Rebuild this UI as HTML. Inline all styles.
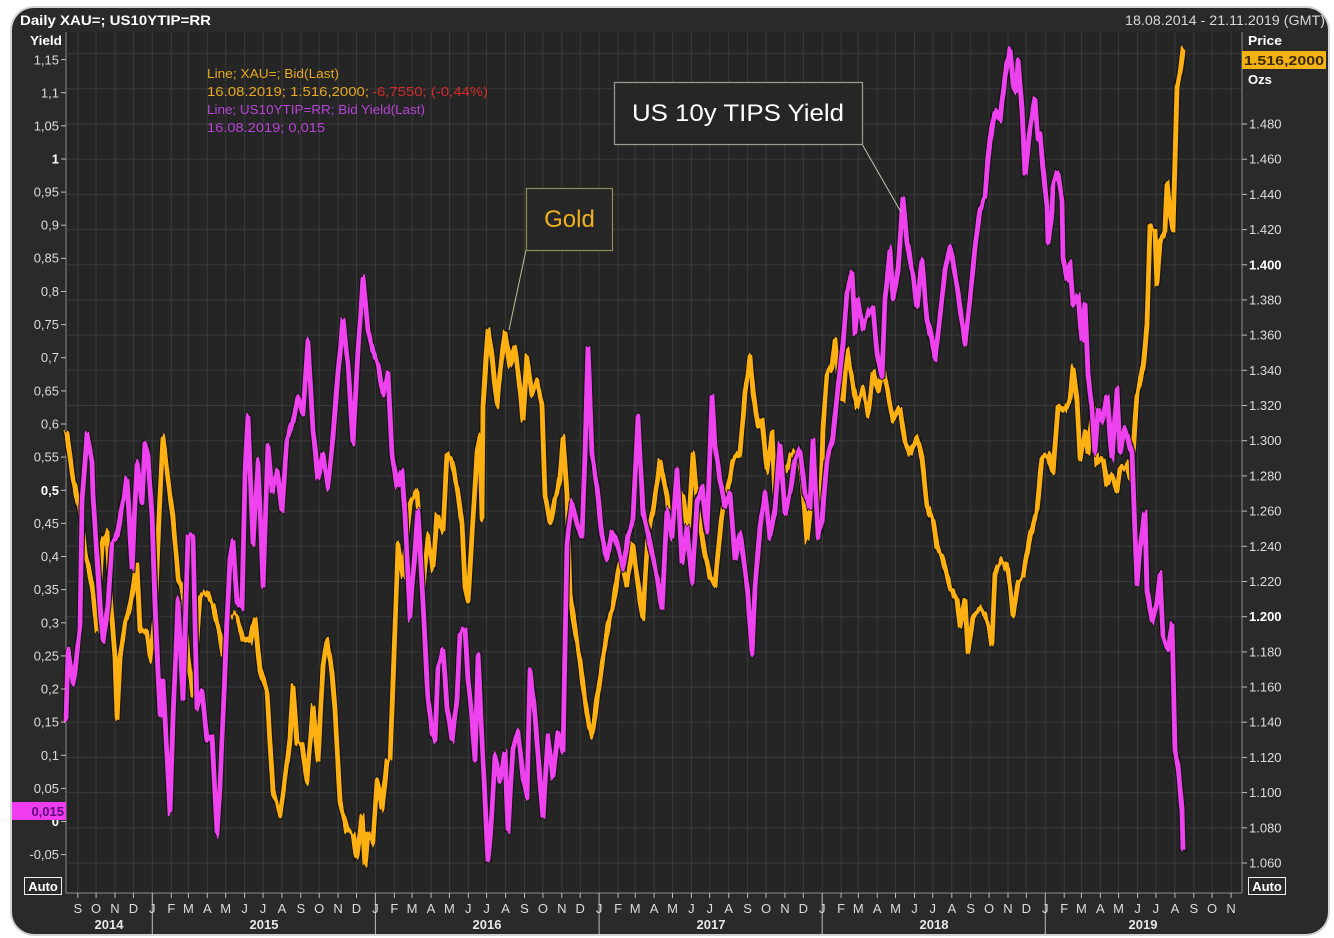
<!DOCTYPE html>
<html><head><meta charset="utf-8"><style>
html,body{margin:0;padding:0;background:#fff;}
svg{display:block;}
text{font-family:"Liberation Sans","DejaVu Sans",sans-serif;}
</style></head><body>
<svg width="1334" height="938" viewBox="0 0 1334 938" xmlns="http://www.w3.org/2000/svg">
<defs>
<filter id="jit" x="0" y="0" width="1334" height="938" filterUnits="userSpaceOnUse" color-interpolation-filters="sRGB">
<feTurbulence type="fractalNoise" baseFrequency="0.3 0.004" numOctaves="2" seed="3" result="t"/>
<feColorMatrix in="t" type="matrix" values="0 0 0 0 0.5  0 1 0 0 0  0 0 0 0 0  0 0 0 0 1" result="m"/>
<feDisplacementMap in="SourceGraphic" in2="m" scale="12" xChannelSelector="R" yChannelSelector="G"/>
</filter>
<filter id="jit2" x="0" y="0" width="1334" height="938" filterUnits="userSpaceOnUse" color-interpolation-filters="sRGB">
<feTurbulence type="fractalNoise" baseFrequency="0.3 0.004" numOctaves="2" seed="11" result="t"/>
<feColorMatrix in="t" type="matrix" values="0 0 0 0 0.5  0 1 0 0 0  0 0 0 0 0  0 0 0 0 1" result="m"/>
<feDisplacementMap in="SourceGraphic" in2="m" scale="12" xChannelSelector="R" yChannelSelector="G"/>
</filter>
</defs>
<rect x="0" y="0" width="1334" height="938" fill="#ffffff"/>
<rect x="10" y="6" width="1320" height="930" rx="24" ry="24" fill="#d4d4d4"/>
<rect x="12" y="8" width="1316" height="926" rx="22" ry="22" fill="#2a2a2a"/>
<rect x="66" y="32" width="1176" height="861" fill="#252525"/>
<g stroke="#3a3a3a" stroke-width="1">
<line x1="66" x2="1242" y1="53.6" y2="53.6"/><line x1="66" x2="1242" y1="88.8" y2="88.8"/>
<line x1="66" x2="1242" y1="124" y2="124"/><line x1="66" x2="1242" y1="159.2" y2="159.2"/>
<line x1="66" x2="1242" y1="194.4" y2="194.4"/><line x1="66" x2="1242" y1="229.6" y2="229.6"/>
<line x1="66" x2="1242" y1="264.8" y2="264.8"/><line x1="66" x2="1242" y1="299.9" y2="299.9"/>
<line x1="66" x2="1242" y1="335.1" y2="335.1"/><line x1="66" x2="1242" y1="370.3" y2="370.3"/>
<line x1="66" x2="1242" y1="405.5" y2="405.5"/><line x1="66" x2="1242" y1="440.7" y2="440.7"/>
<line x1="66" x2="1242" y1="475.9" y2="475.9"/><line x1="66" x2="1242" y1="511.1" y2="511.1"/>
<line x1="66" x2="1242" y1="546.3" y2="546.3"/><line x1="66" x2="1242" y1="581.5" y2="581.5"/>
<line x1="66" x2="1242" y1="616.7" y2="616.7"/><line x1="66" x2="1242" y1="651.9" y2="651.9"/>
<line x1="66" x2="1242" y1="687" y2="687"/><line x1="66" x2="1242" y1="722.2" y2="722.2"/>
<line x1="66" x2="1242" y1="757.4" y2="757.4"/><line x1="66" x2="1242" y1="792.6" y2="792.6"/>
<line x1="66" x2="1242" y1="827.8" y2="827.8"/><line x1="66" x2="1242" y1="863" y2="863"/>
</g>
<g stroke="#3a3a3a" stroke-width="1">
<line y1="32" y2="893" x1="77.8" x2="77.8"/><line y1="32" y2="893" x1="96.1" x2="96.1"/><line y1="32" y2="893" x1="115" x2="115"/><line y1="32" y2="893" x1="133.4" x2="133.4"/><line y1="32" y2="893" x1="152.3" x2="152.3"/>
<line y1="32" y2="893" x1="171.3" x2="171.3"/><line y1="32" y2="893" x1="188.4" x2="188.4"/><line y1="32" y2="893" x1="207.3" x2="207.3"/><line y1="32" y2="893" x1="225.7" x2="225.7"/><line y1="32" y2="893" x1="244.6" x2="244.6"/><line y1="32" y2="893" x1="263" x2="263"/><line y1="32" y2="893" x1="281.9" x2="281.9"/><line y1="32" y2="893" x1="300.8" x2="300.8"/><line y1="32" y2="893" x1="319.2" x2="319.2"/><line y1="32" y2="893" x1="338.1" x2="338.1"/><line y1="32" y2="893" x1="356.5" x2="356.5"/><line y1="32" y2="893" x1="375.4" x2="375.4"/>
<line y1="32" y2="893" x1="394.4" x2="394.4"/><line y1="32" y2="893" x1="412.1" x2="412.1"/><line y1="32" y2="893" x1="431" x2="431"/><line y1="32" y2="893" x1="449.4" x2="449.4"/><line y1="32" y2="893" x1="468.3" x2="468.3"/><line y1="32" y2="893" x1="486.6" x2="486.6"/><line y1="32" y2="893" x1="505.6" x2="505.6"/><line y1="32" y2="893" x1="524.5" x2="524.5"/><line y1="32" y2="893" x1="542.9" x2="542.9"/><line y1="32" y2="893" x1="561.8" x2="561.8"/><line y1="32" y2="893" x1="580.2" x2="580.2"/><line y1="32" y2="893" x1="599.1" x2="599.1"/>
<line y1="32" y2="893" x1="618.1" x2="618.1"/><line y1="32" y2="893" x1="635.2" x2="635.2"/><line y1="32" y2="893" x1="654.1" x2="654.1"/><line y1="32" y2="893" x1="672.5" x2="672.5"/><line y1="32" y2="893" x1="691.4" x2="691.4"/><line y1="32" y2="893" x1="709.7" x2="709.7"/><line y1="32" y2="893" x1="728.7" x2="728.7"/><line y1="32" y2="893" x1="747.6" x2="747.6"/><line y1="32" y2="893" x1="766" x2="766"/><line y1="32" y2="893" x1="784.9" x2="784.9"/><line y1="32" y2="893" x1="803.3" x2="803.3"/><line y1="32" y2="893" x1="822.2" x2="822.2"/>
<line y1="32" y2="893" x1="841.1" x2="841.1"/><line y1="32" y2="893" x1="858.3" x2="858.3"/><line y1="32" y2="893" x1="877.2" x2="877.2"/><line y1="32" y2="893" x1="895.5" x2="895.5"/><line y1="32" y2="893" x1="914.5" x2="914.5"/><line y1="32" y2="893" x1="932.8" x2="932.8"/><line y1="32" y2="893" x1="951.8" x2="951.8"/><line y1="32" y2="893" x1="970.7" x2="970.7"/><line y1="32" y2="893" x1="989.1" x2="989.1"/><line y1="32" y2="893" x1="1008" x2="1008"/><line y1="32" y2="893" x1="1026.3" x2="1026.3"/><line y1="32" y2="893" x1="1045.3" x2="1045.3"/>
<line y1="32" y2="893" x1="1064.2" x2="1064.2"/><line y1="32" y2="893" x1="1081.4" x2="1081.4"/><line y1="32" y2="893" x1="1100.3" x2="1100.3"/><line y1="32" y2="893" x1="1118.6" x2="1118.6"/><line y1="32" y2="893" x1="1137.6" x2="1137.6"/><line y1="32" y2="893" x1="1155.9" x2="1155.9"/><line y1="32" y2="893" x1="1174.9" x2="1174.9"/><line y1="32" y2="893" x1="1193.8" x2="1193.8"/><line y1="32" y2="893" x1="1212.1" x2="1212.1"/><line y1="32" y2="893" x1="1231.1" x2="1231.1"/>
</g>
<g stroke="#8a8a8a" stroke-width="1">
<line x1="66" y1="32" x2="66" y2="893"/>
<line x1="1242" y1="32" x2="1242" y2="893"/>
<line x1="66" y1="893" x2="1242" y2="893"/>
</g>

<!-- legend -->
<text x="207" y="78" font-size="13" fill="#e8a820" textLength="132" lengthAdjust="spacingAndGlyphs">Line; XAU=; Bid(Last)</text>
<text x="207" y="96" font-size="13" fill="#e8a820" textLength="162" lengthAdjust="spacingAndGlyphs">16.08.2019; 1.516,2000;</text>
<text x="372" y="96" font-size="13" fill="#d42a2a" textLength="116" lengthAdjust="spacingAndGlyphs">-6,7550; (-0,44%)</text>
<text x="207" y="114" font-size="13" fill="#b844d8" textLength="218" lengthAdjust="spacingAndGlyphs">Line; US10YTIP=RR; Bid Yield(Last)</text>
<text x="207" y="132" font-size="13" fill="#b844d8" textLength="118" lengthAdjust="spacingAndGlyphs">16.08.2019; 0,015</text>

<!-- series: gold -->
<g fill="none" stroke-linejoin="round" stroke-linecap="round" filter="url(#jit)">
<polyline stroke="#141414" stroke-width="7" points="66,432 67,434 73,479 80,511 85,552 92,585 97,630 102,544 107,532 110,593 115,658 117,719 120,658 125,625 130,609 137,564 140,630 147,634 150,658 155,613 160,495 163,438 168,479 173,519 178,577 183,593 188,658 193,695 200,597 207,593 213,605 220,634 223,654 228,617 237,617 243,638 250,642 255,617 260,670 267,691 273,793 280,813 283,793 290,740 293,687 297,744 302,744 307,781 313,707 318,760 323,666 327,642 332,674 335,711 340,801 347,830 353,834 357,858 362,817 365,866 368,834 373,842 377,781 382,809 387,760 390,760 395,630 398,545 403,577 410,503 417,491 423,589 428,536 433,568 437,515 443,532 447,454 452,462 457,487 462,523 465,585 468,601 472,536 477,454 480,434 482,519 483,405 488,328 492,356 497,405 500,372 505,332 510,368 515,348 520,389 523,421 527,356 532,393 537,381 542,405 545,495 550,523 555,499 560,479 563,438 567,495 570,593 573,617 580,662 587,715 592,736 597,699 603,658 608,626 613,605 620,560 627,585 633,544 640,597 643,617 648,532 653,511 660,462 667,495 670,532 677,511 683,495 688,536 693,454 698,511 703,544 710,577 715,585 720,532 724,500 727,493 733,460 740,453 745,393 750,357 753,393 758,427 762,420 767,470 772,433 775,497 780,473 787,470 792,453 798,450 802,480 807,540 812,493 817,500 820,533 823,427 827,373 832,367 835,340 840,393 843,400 847,350 852,380 857,407 863,390 868,413 873,373 878,393 883,367 888,393 893,420 900,407 905,440 910,453 917,437 922,457 927,507 933,520 937,547 943,560 950,587 957,600 960,627 965,600 968,653 973,617 980,610 987,620 992,643 995,573 1002,560 1008,570 1013,613 1018,580 1023,577 1030,537 1037,510 1042,457 1048,453 1053,473 1058,407 1060,406 1065,411 1070,401 1073,369 1077,401 1080,459 1085,432 1088,453 1093,406 1097,464 1103,459 1107,485 1112,475 1117,491 1120,469 1127,464 1130,480 1133,453 1137,395 1143,369 1147,326 1150,226 1155,231 1157,284 1160,242 1165,231 1167,184 1170,215 1173,231 1175,162 1177,88 1180,72 1183,49"/>
<polyline stroke="#fdb012" stroke-width="4.8" points="66,432 67,434 73,479 80,511 85,552 92,585 97,630 102,544 107,532 110,593 115,658 117,719 120,658 125,625 130,609 137,564 140,630 147,634 150,658 155,613 160,495 163,438 168,479 173,519 178,577 183,593 188,658 193,695 200,597 207,593 213,605 220,634 223,654 228,617 237,617 243,638 250,642 255,617 260,670 267,691 273,793 280,813 283,793 290,740 293,687 297,744 302,744 307,781 313,707 318,760 323,666 327,642 332,674 335,711 340,801 347,830 353,834 357,858 362,817 365,866 368,834 373,842 377,781 382,809 387,760 390,760 395,630 398,545 403,577 410,503 417,491 423,589 428,536 433,568 437,515 443,532 447,454 452,462 457,487 462,523 465,585 468,601 472,536 477,454 480,434 482,519 483,405 488,328 492,356 497,405 500,372 505,332 510,368 515,348 520,389 523,421 527,356 532,393 537,381 542,405 545,495 550,523 555,499 560,479 563,438 567,495 570,593 573,617 580,662 587,715 592,736 597,699 603,658 608,626 613,605 620,560 627,585 633,544 640,597 643,617 648,532 653,511 660,462 667,495 670,532 677,511 683,495 688,536 693,454 698,511 703,544 710,577 715,585 720,532 724,500 727,493 733,460 740,453 745,393 750,357 753,393 758,427 762,420 767,470 772,433 775,497 780,473 787,470 792,453 798,450 802,480 807,540 812,493 817,500 820,533 823,427 827,373 832,367 835,340 840,393 843,400 847,350 852,380 857,407 863,390 868,413 873,373 878,393 883,367 888,393 893,420 900,407 905,440 910,453 917,437 922,457 927,507 933,520 937,547 943,560 950,587 957,600 960,627 965,600 968,653 973,617 980,610 987,620 992,643 995,573 1002,560 1008,570 1013,613 1018,580 1023,577 1030,537 1037,510 1042,457 1048,453 1053,473 1058,407 1060,406 1065,411 1070,401 1073,369 1077,401 1080,459 1085,432 1088,453 1093,406 1097,464 1103,459 1107,485 1112,475 1117,491 1120,469 1127,464 1130,480 1133,453 1137,395 1143,369 1147,326 1150,226 1155,231 1157,284 1160,242 1165,231 1167,184 1170,215 1173,231 1175,162 1177,88 1180,72 1183,49"/>
</g>
<!-- magenta -->
<g fill="none" stroke-linejoin="round" stroke-linecap="round" filter="url(#jit2)">
<polyline stroke="#141414" stroke-width="7" points="66,719 68,650 73,683 77,654 80,626 82,503 87,434 92,462 93,495 97,556 100,605 103,642 108,605 112,544 117,536 122,507 127,479 132,568 137,462 142,503 145,442 148,458 152,515 155,605 160,715 163,679 170,813 173,719 178,601 183,699 188,536 193,536 197,707 202,691 207,740 212,736 217,834 220,785 223,719 227,621 230,560 233,540 237,601 242,609 245,474 248,417 253,544 258,462 263,585 268,446 272,491 277,470 282,511 287,438 293,421 298,397 303,413 308,340 313,430 318,479 323,454 328,487 333,438 338,372 343,319 348,364 353,442 358,348 363,279 368,332 373,352 378,364 383,393 388,372 392,454 397,487 402,470 405,515 410,617 413,577 418,511 422,585 425,642 428,699 432,732 435,740 438,666 443,650 447,707 452,740 457,699 460,634 465,630 468,679 472,719 475,760 478,654 483,760 488,862 492,813 495,756 500,781 505,752 508,830 513,748 518,732 523,777 527,797 530,670 535,715 540,781 543,817 548,736 553,777 558,732 563,752 567,544 572,503 577,523 582,536 585,454 588,348 592,454 597,487 602,536 607,560 612,532 617,544 623,568 628,536 633,519 638,417 643,511 650,544 657,577 662,609 667,511 672,536 677,470 682,564 687,528 692,581 697,503 702,487 707,532 712,397 715,446 720,479 725,507 730,493 735,560 740,533 745,570 748,597 752,653 755,587 760,527 765,493 770,537 775,510 780,443 785,513 790,493 795,460 800,450 805,493 810,507 813,440 818,537 822,520 827,460 833,437 838,387 843,343 847,293 852,273 855,333 858,300 863,327 868,313 873,307 877,353 882,377 885,300 890,250 893,300 898,270 903,197 907,243 912,270 917,307 922,260 927,320 932,340 935,360 940,317 945,270 950,247 955,273 960,307 965,343 970,300 975,247 980,210 985,197 988,160 990,140 995,110 1000,120 1005,75 1010,47 1013,80 1016,90 1018,60 1022,110 1025,175 1028,150 1030,130 1035,100 1038,140 1040,131 1043,168 1047,205 1048,242 1052,215 1053,184 1058,173 1062,199 1063,258 1067,279 1070,263 1073,305 1078,295 1082,342 1085,305 1088,374 1092,411 1095,453 1098,411 1102,422 1107,395 1112,459 1117,390 1120,453 1125,427 1132,453 1137,586 1140,549 1145,512 1147,591 1152,623 1157,602 1160,575 1163,639 1168,649 1172,623 1175,750 1178,766 1182,808 1183,848"/>
<polyline stroke="#ef42ef" stroke-width="4.8" points="66,719 68,650 73,683 77,654 80,626 82,503 87,434 92,462 93,495 97,556 100,605 103,642 108,605 112,544 117,536 122,507 127,479 132,568 137,462 142,503 145,442 148,458 152,515 155,605 160,715 163,679 170,813 173,719 178,601 183,699 188,536 193,536 197,707 202,691 207,740 212,736 217,834 220,785 223,719 227,621 230,560 233,540 237,601 242,609 245,474 248,417 253,544 258,462 263,585 268,446 272,491 277,470 282,511 287,438 293,421 298,397 303,413 308,340 313,430 318,479 323,454 328,487 333,438 338,372 343,319 348,364 353,442 358,348 363,279 368,332 373,352 378,364 383,393 388,372 392,454 397,487 402,470 405,515 410,617 413,577 418,511 422,585 425,642 428,699 432,732 435,740 438,666 443,650 447,707 452,740 457,699 460,634 465,630 468,679 472,719 475,760 478,654 483,760 488,862 492,813 495,756 500,781 505,752 508,830 513,748 518,732 523,777 527,797 530,670 535,715 540,781 543,817 548,736 553,777 558,732 563,752 567,544 572,503 577,523 582,536 585,454 588,348 592,454 597,487 602,536 607,560 612,532 617,544 623,568 628,536 633,519 638,417 643,511 650,544 657,577 662,609 667,511 672,536 677,470 682,564 687,528 692,581 697,503 702,487 707,532 712,397 715,446 720,479 725,507 730,493 735,560 740,533 745,570 748,597 752,653 755,587 760,527 765,493 770,537 775,510 780,443 785,513 790,493 795,460 800,450 805,493 810,507 813,440 818,537 822,520 827,460 833,437 838,387 843,343 847,293 852,273 855,333 858,300 863,327 868,313 873,307 877,353 882,377 885,300 890,250 893,300 898,270 903,197 907,243 912,270 917,307 922,260 927,320 932,340 935,360 940,317 945,270 950,247 955,273 960,307 965,343 970,300 975,247 980,210 985,197 988,160 990,140 995,110 1000,120 1005,75 1010,47 1013,80 1016,90 1018,60 1022,110 1025,175 1028,150 1030,130 1035,100 1038,140 1040,131 1043,168 1047,205 1048,242 1052,215 1053,184 1058,173 1062,199 1063,258 1067,279 1070,263 1073,305 1078,295 1082,342 1085,305 1088,374 1092,411 1095,453 1098,411 1102,422 1107,395 1112,459 1117,390 1120,453 1125,427 1132,453 1137,586 1140,549 1145,512 1147,591 1152,623 1157,602 1160,575 1163,639 1168,649 1172,623 1175,750 1178,766 1182,808 1183,848"/>
</g>

<!-- annotations -->
<line x1="526" y1="250" x2="509" y2="330" stroke="#b8c090" stroke-width="1"/>
<rect x="526.5" y="188.5" width="86" height="62" fill="#262626" stroke="#8f8a58" stroke-width="1.2"/>
<text x="569.5" y="227" font-size="24" fill="#f2b020" text-anchor="middle">Gold</text>
<line x1="862" y1="144" x2="901" y2="212" stroke="#c0c8b0" stroke-width="1"/>
<rect x="614.5" y="82.5" width="248" height="62" fill="#262626" stroke="#9aa090" stroke-width="1.2"/>
<text x="738" y="121" font-size="24" fill="#ffffff" text-anchor="middle" textLength="212" lengthAdjust="spacingAndGlyphs">US 10y TIPS Yield</text>

<!-- header -->
<text x="20" y="25" font-size="14" font-weight="bold" fill="#ffffff" textLength="191" lengthAdjust="spacingAndGlyphs">Daily XAU=; US10YTIP=RR</text>
<text x="1125" y="25" font-size="13.5" fill="#d8d8d8" textLength="200" lengthAdjust="spacingAndGlyphs">18.08.2014 - 21.11.2019 (GMT)</text>
<text x="30" y="45" font-size="13" font-weight="bold" fill="#ffffff" textLength="32" lengthAdjust="spacingAndGlyphs">Yield</text>
<text x="1248" y="45" font-size="13" font-weight="bold" fill="#ffffff" textLength="34" lengthAdjust="spacingAndGlyphs">Price</text>
<text x="1248" y="84" font-size="13" font-weight="bold" fill="#ffffff">Ozs</text>

<!-- left axis -->
<g font-size="13" fill="#dcdcdc" text-anchor="end">
<text x="59" y="64.5">1,15</text><text x="59" y="97.5">1,1</text><text x="59" y="130.5">1,05</text>
<text x="59" y="163.5" font-weight="bold" fill="#fff">1</text><text x="59" y="196.5">0,95</text><text x="59" y="229.5">0,9</text>
<text x="59" y="262.5">0,85</text><text x="59" y="296">0,8</text><text x="59" y="329">0,75</text>
<text x="59" y="362">0,7</text><text x="59" y="395.5">0,65</text><text x="59" y="428.5">0,6</text>
<text x="59" y="461.5">0,55</text><text x="59" y="495" font-weight="bold" fill="#fff">0,5</text><text x="59" y="528">0,45</text>
<text x="59" y="561">0,4</text><text x="59" y="594">0,35</text><text x="59" y="627.5">0,3</text>
<text x="59" y="660.5">0,25</text><text x="59" y="693.5">0,2</text><text x="59" y="726.5">0,15</text>
<text x="59" y="760">0,1</text><text x="59" y="793">0,05</text><text x="59" y="826" font-weight="bold" fill="#fff">0</text>
<text x="59" y="859">-0,05</text>
</g>
<g stroke="#bdbdbd" stroke-width="1">
<line x1="61" x2="66" y1="59.6" y2="59.6"/><line x1="61" x2="66" y1="92.7" y2="92.7"/><line x1="61" x2="66" y1="125.8" y2="125.8"/><line x1="61" x2="66" y1="159" y2="159"/><line x1="61" x2="66" y1="192.1" y2="192.1"/><line x1="61" x2="66" y1="225.2" y2="225.2"/><line x1="61" x2="66" y1="258.4" y2="258.4"/><line x1="61" x2="66" y1="291.5" y2="291.5"/><line x1="61" x2="66" y1="324.6" y2="324.6"/><line x1="61" x2="66" y1="357.7" y2="357.7"/><line x1="61" x2="66" y1="390.9" y2="390.9"/><line x1="61" x2="66" y1="424" y2="424"/><line x1="61" x2="66" y1="457.1" y2="457.1"/><line x1="61" x2="66" y1="490.3" y2="490.3"/><line x1="61" x2="66" y1="523.4" y2="523.4"/><line x1="61" x2="66" y1="556.5" y2="556.5"/><line x1="61" x2="66" y1="589.6" y2="589.6"/><line x1="61" x2="66" y1="622.8" y2="622.8"/><line x1="61" x2="66" y1="655.9" y2="655.9"/><line x1="61" x2="66" y1="689" y2="689"/><line x1="61" x2="66" y1="722.1" y2="722.1"/><line x1="61" x2="66" y1="755.3" y2="755.3"/><line x1="61" x2="66" y1="788.4" y2="788.4"/><line x1="61" x2="66" y1="821.5" y2="821.5"/><line x1="61" x2="66" y1="854.6" y2="854.6"/>
</g>
<rect x="12" y="802" width="54" height="18" fill="#ee3cee"/>
<text x="64" y="816" font-size="13" font-weight="bold" fill="#5a0a78" text-anchor="end">0,015</text>
<rect x="24.5" y="877.5" width="37" height="17" fill="none" stroke="#f0f0f0" stroke-width="1"/>
<text x="43" y="891" font-size="13" font-weight="bold" fill="#ffffff" text-anchor="middle">Auto</text>

<!-- right axis -->
<g stroke="#bdbdbd" stroke-width="1">
<line x1="1242" x2="1247" y1="124" y2="124"/><line x1="1242" x2="1247" y1="159.2" y2="159.2"/><line x1="1242" x2="1247" y1="194.4" y2="194.4"/><line x1="1242" x2="1247" y1="229.6" y2="229.6"/><line x1="1242" x2="1247" y1="264.8" y2="264.8"/><line x1="1242" x2="1247" y1="299.9" y2="299.9"/><line x1="1242" x2="1247" y1="335.1" y2="335.1"/><line x1="1242" x2="1247" y1="370.3" y2="370.3"/><line x1="1242" x2="1247" y1="405.5" y2="405.5"/><line x1="1242" x2="1247" y1="440.7" y2="440.7"/><line x1="1242" x2="1247" y1="475.9" y2="475.9"/><line x1="1242" x2="1247" y1="511.1" y2="511.1"/><line x1="1242" x2="1247" y1="546.3" y2="546.3"/><line x1="1242" x2="1247" y1="581.5" y2="581.5"/><line x1="1242" x2="1247" y1="616.7" y2="616.7"/><line x1="1242" x2="1247" y1="651.9" y2="651.9"/><line x1="1242" x2="1247" y1="687" y2="687"/><line x1="1242" x2="1247" y1="722.2" y2="722.2"/><line x1="1242" x2="1247" y1="757.4" y2="757.4"/><line x1="1242" x2="1247" y1="792.6" y2="792.6"/><line x1="1242" x2="1247" y1="827.8" y2="827.8"/><line x1="1242" x2="1247" y1="863" y2="863"/>
</g>
<g font-size="13" fill="#dcdcdc">
<text x="1249" y="128.5">1.480</text><text x="1249" y="163.7">1.460</text><text x="1249" y="198.9">1.440</text><text x="1249" y="234.1">1.420</text>
<text x="1249" y="269.3" font-weight="bold" fill="#fff">1.400</text><text x="1249" y="304.4">1.380</text><text x="1249" y="339.6">1.360</text><text x="1249" y="374.8">1.340</text>
<text x="1249" y="410">1.320</text><text x="1249" y="445.2">1.300</text><text x="1249" y="480.4">1.280</text><text x="1249" y="515.6">1.260</text>
<text x="1249" y="550.8">1.240</text><text x="1249" y="586">1.220</text><text x="1249" y="621.2" font-weight="bold" fill="#fff">1.200</text><text x="1249" y="656.4">1.180</text>
<text x="1249" y="691.5">1.160</text><text x="1249" y="726.7">1.140</text><text x="1249" y="761.9">1.120</text><text x="1249" y="797.1">1.100</text>
<text x="1249" y="832.3">1.080</text><text x="1249" y="867.5">1.060</text>
</g>
<rect x="1242" y="51" width="84" height="18" fill="#f2b214"/>
<text x="1284" y="65" font-size="13" font-weight="bold" fill="#3a2800" text-anchor="middle" textLength="80" lengthAdjust="spacingAndGlyphs">1.516,2000</text>
<rect x="1248.5" y="877.5" width="37" height="17" fill="none" stroke="#f0f0f0" stroke-width="1"/>
<text x="1267" y="891" font-size="13" font-weight="bold" fill="#ffffff" text-anchor="middle">Auto</text>

<!-- x axis -->
<g stroke="#bdbdbd" stroke-width="1">
<line y1="893" y2="898" x1="77.8" x2="77.8"/><line y1="893" y2="898" x1="96.1" x2="96.1"/><line y1="893" y2="898" x1="115" x2="115"/><line y1="893" y2="898" x1="133.4" x2="133.4"/>
<line y1="893" y2="898" x1="171.3" x2="171.3"/><line y1="893" y2="898" x1="188.4" x2="188.4"/><line y1="893" y2="898" x1="207.3" x2="207.3"/><line y1="893" y2="898" x1="225.7" x2="225.7"/><line y1="893" y2="898" x1="244.6" x2="244.6"/><line y1="893" y2="898" x1="263" x2="263"/><line y1="893" y2="898" x1="281.9" x2="281.9"/><line y1="893" y2="898" x1="300.8" x2="300.8"/><line y1="893" y2="898" x1="319.2" x2="319.2"/><line y1="893" y2="898" x1="338.1" x2="338.1"/><line y1="893" y2="898" x1="356.5" x2="356.5"/>
<line y1="893" y2="898" x1="394.4" x2="394.4"/><line y1="893" y2="898" x1="412.1" x2="412.1"/><line y1="893" y2="898" x1="431" x2="431"/><line y1="893" y2="898" x1="449.4" x2="449.4"/><line y1="893" y2="898" x1="468.3" x2="468.3"/><line y1="893" y2="898" x1="486.6" x2="486.6"/><line y1="893" y2="898" x1="505.6" x2="505.6"/><line y1="893" y2="898" x1="524.5" x2="524.5"/><line y1="893" y2="898" x1="542.9" x2="542.9"/><line y1="893" y2="898" x1="561.8" x2="561.8"/><line y1="893" y2="898" x1="580.2" x2="580.2"/>
<line y1="893" y2="898" x1="618.1" x2="618.1"/><line y1="893" y2="898" x1="635.2" x2="635.2"/><line y1="893" y2="898" x1="654.1" x2="654.1"/><line y1="893" y2="898" x1="672.5" x2="672.5"/><line y1="893" y2="898" x1="691.4" x2="691.4"/><line y1="893" y2="898" x1="709.7" x2="709.7"/><line y1="893" y2="898" x1="728.7" x2="728.7"/><line y1="893" y2="898" x1="747.6" x2="747.6"/><line y1="893" y2="898" x1="766" x2="766"/><line y1="893" y2="898" x1="784.9" x2="784.9"/><line y1="893" y2="898" x1="803.3" x2="803.3"/>
<line y1="893" y2="898" x1="841.1" x2="841.1"/><line y1="893" y2="898" x1="858.3" x2="858.3"/><line y1="893" y2="898" x1="877.2" x2="877.2"/><line y1="893" y2="898" x1="895.5" x2="895.5"/><line y1="893" y2="898" x1="914.5" x2="914.5"/><line y1="893" y2="898" x1="932.8" x2="932.8"/><line y1="893" y2="898" x1="951.8" x2="951.8"/><line y1="893" y2="898" x1="970.7" x2="970.7"/><line y1="893" y2="898" x1="989.1" x2="989.1"/><line y1="893" y2="898" x1="1008" x2="1008"/><line y1="893" y2="898" x1="1026.3" x2="1026.3"/>
<line y1="893" y2="898" x1="1064.2" x2="1064.2"/><line y1="893" y2="898" x1="1081.4" x2="1081.4"/><line y1="893" y2="898" x1="1100.3" x2="1100.3"/><line y1="893" y2="898" x1="1118.6" x2="1118.6"/><line y1="893" y2="898" x1="1137.6" x2="1137.6"/><line y1="893" y2="898" x1="1155.9" x2="1155.9"/><line y1="893" y2="898" x1="1174.9" x2="1174.9"/><line y1="893" y2="898" x1="1193.8" x2="1193.8"/><line y1="893" y2="898" x1="1212.1" x2="1212.1"/><line y1="893" y2="898" x1="1231.1" x2="1231.1"/>
<line y1="893" y2="934" x1="152.3" x2="152.3"/><line y1="893" y2="934" x1="375.4" x2="375.4"/><line y1="893" y2="934" x1="599.1" x2="599.1"/><line y1="893" y2="934" x1="822.2" x2="822.2"/><line y1="893" y2="934" x1="1045.3" x2="1045.3"/>
</g>
<g font-size="13" fill="#dcdcdc" text-anchor="middle">
<text x="77.8" y="913">S</text><text x="96.1" y="913">O</text><text x="115" y="913">N</text><text x="133.4" y="913">D</text><text x="152.3" y="913">J</text>
<text x="171.3" y="913">F</text><text x="188.4" y="913">M</text><text x="207.3" y="913">A</text><text x="225.7" y="913">M</text><text x="244.6" y="913">J</text><text x="263" y="913">J</text><text x="281.9" y="913">A</text><text x="300.8" y="913">S</text><text x="319.2" y="913">O</text><text x="338.1" y="913">N</text><text x="356.5" y="913">D</text><text x="375.4" y="913">J</text>
<text x="394.4" y="913">F</text><text x="412.1" y="913">M</text><text x="431" y="913">A</text><text x="449.4" y="913">M</text><text x="468.3" y="913">J</text><text x="486.6" y="913">J</text><text x="505.6" y="913">A</text><text x="524.5" y="913">S</text><text x="542.9" y="913">O</text><text x="561.8" y="913">N</text><text x="580.2" y="913">D</text><text x="599.1" y="913">J</text>
<text x="618.1" y="913">F</text><text x="635.2" y="913">M</text><text x="654.1" y="913">A</text><text x="672.5" y="913">M</text><text x="691.4" y="913">J</text><text x="709.7" y="913">J</text><text x="728.7" y="913">A</text><text x="747.6" y="913">S</text><text x="766" y="913">O</text><text x="784.9" y="913">N</text><text x="803.3" y="913">D</text><text x="822.2" y="913">J</text>
<text x="841.1" y="913">F</text><text x="858.3" y="913">M</text><text x="877.2" y="913">A</text><text x="895.5" y="913">M</text><text x="914.5" y="913">J</text><text x="932.8" y="913">J</text><text x="951.8" y="913">A</text><text x="970.7" y="913">S</text><text x="989.1" y="913">O</text><text x="1008" y="913">N</text><text x="1026.3" y="913">D</text><text x="1045.3" y="913">J</text>
<text x="1064.2" y="913">F</text><text x="1081.4" y="913">M</text><text x="1100.3" y="913">A</text><text x="1118.6" y="913">M</text><text x="1137.6" y="913">J</text><text x="1155.9" y="913">J</text><text x="1174.9" y="913">A</text><text x="1193.8" y="913">S</text><text x="1212.1" y="913">O</text><text x="1231.1" y="913">N</text>
</g>
<g font-size="13" font-weight="bold" fill="#e8e8e8" text-anchor="middle">
<text x="109" y="929">2014</text><text x="264" y="929">2015</text><text x="487" y="929">2016</text><text x="711" y="929">2017</text><text x="934" y="929">2018</text><text x="1143" y="929">2019</text>
</g>
</svg>
</body></html>
